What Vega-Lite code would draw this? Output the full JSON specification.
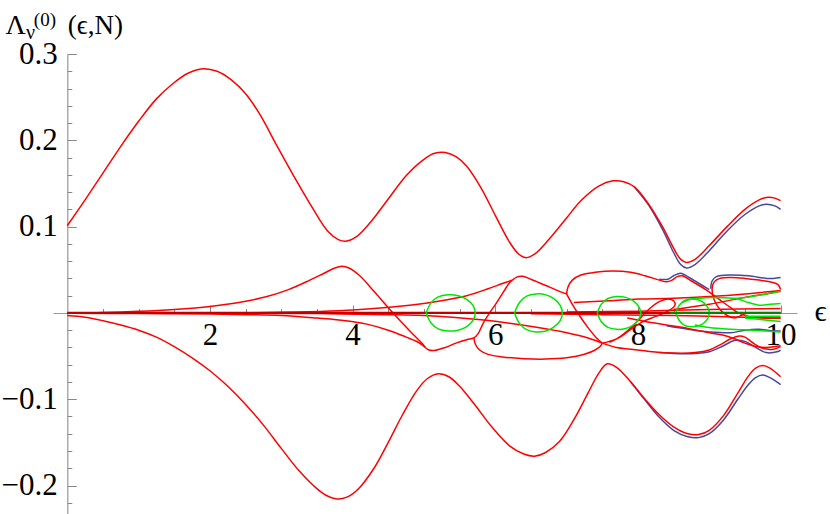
{
"$schema":"https://vega.github.io/schema/vega-lite/v6.json",
"width":744,"height":460,"autosize":"none",
"padding":{"left":53,"top":54,"right":33,"bottom":0},
"background":"white",
"config":{"view":{"stroke":null},"axis":{"labelFont":"Liberation Serif","titleFont":"Liberation Serif"}},
"title":{"text":"ν","anchor":"start","frame":"group","offset":17,"dx":-27,"dy":66,"fontSize":20,"font":"Liberation Serif","fontWeight":"normal","baseline":"alphabetic","color":"#000"},
"datasets":{"pts":[
{"c":"A","f":"r","i":0,"x":0,"y":0.101},{"c":"A","f":"r","i":1,"x":0.25,"y":0.131},{"c":"A","f":"r","i":2,"x":0.5,"y":0.162},{"c":"A","f":"r","i":3,"x":0.75,"y":0.193},{"c":"A","f":"r","i":4,"x":1.0,"y":0.222},{"c":"A","f":"r","i":5,"x":1.25,"y":0.248},{"c":"A","f":"r","i":6,"x":1.5,"y":0.267},{"c":"A","f":"r","i":7,"x":1.7,"y":0.278},{"c":"A","f":"r","i":8,"x":1.9,"y":0.283},{"c":"A","f":"r","i":9,"x":2.1,"y":0.28},{"c":"A","f":"r","i":10,"x":2.3,"y":0.27},{"c":"A","f":"r","i":11,"x":2.5,"y":0.254},{"c":"A","f":"r","i":12,"x":2.7,"y":0.23},{"c":"A","f":"r","i":13,"x":2.95,"y":0.192},{"c":"A","f":"r","i":14,"x":3.2,"y":0.155},{"c":"A","f":"r","i":15,"x":3.45,"y":0.12},{"c":"A","f":"r","i":16,"x":3.65,"y":0.095},{"c":"A","f":"r","i":17,"x":3.8,"y":0.085},{"c":"A","f":"r","i":18,"x":3.9,"y":0.083},{"c":"A","f":"r","i":19,"x":4.05,"y":0.088},{"c":"A","f":"r","i":20,"x":4.25,"y":0.105},{"c":"A","f":"r","i":21,"x":4.5,"y":0.132},{"c":"A","f":"r","i":22,"x":4.75,"y":0.159},{"c":"A","f":"r","i":23,"x":5.0,"y":0.178},{"c":"A","f":"r","i":24,"x":5.15,"y":0.185},{"c":"A","f":"r","i":25,"x":5.3,"y":0.186},{"c":"A","f":"r","i":26,"x":5.45,"y":0.181},{"c":"A","f":"r","i":27,"x":5.6,"y":0.17},{"c":"A","f":"r","i":28,"x":5.8,"y":0.145},{"c":"A","f":"r","i":29,"x":6.0,"y":0.113},{"c":"A","f":"r","i":30,"x":6.2,"y":0.082},{"c":"A","f":"r","i":31,"x":6.33,"y":0.068},{"c":"A","f":"r","i":32,"x":6.43,"y":0.064},{"c":"A","f":"r","i":33,"x":6.55,"y":0.068},{"c":"A","f":"r","i":34,"x":6.75,"y":0.085},{"c":"A","f":"r","i":35,"x":7.0,"y":0.11},{"c":"A","f":"r","i":36,"x":7.2,"y":0.13},{"c":"A","f":"r","i":37,"x":7.45,"y":0.147},{"c":"A","f":"r","i":38,"x":7.65,"y":0.153},{"c":"A","f":"r","i":39,"x":7.8,"y":0.152},{"c":"A","f":"r","i":40,"x":7.95,"y":0.146},{"c":"A","f":"r","i":41,"x":8.15,"y":0.126},{"c":"A","f":"r","i":42,"x":8.35,"y":0.099},{"c":"A","f":"r","i":43,"x":8.5,"y":0.075},{"c":"A","f":"r","i":44,"x":8.6,"y":0.062},{"c":"A","f":"r","i":45,"x":8.68,"y":0.0585},{"c":"A","f":"r","i":46,"x":8.8,"y":0.062},{"c":"A","f":"r","i":47,"x":9.0,"y":0.078},{"c":"A","f":"r","i":48,"x":9.25,"y":0.1},{"c":"A","f":"r","i":49,"x":9.5,"y":0.12},{"c":"A","f":"r","i":50,"x":9.7,"y":0.131},{"c":"A","f":"r","i":51,"x":9.82,"y":0.134},{"c":"A","f":"r","i":52,"x":9.92,"y":0.133},{"c":"A","f":"r","i":53,"x":10.0,"y":0.13},
{"c":"Ab","f":"b","i":0,"x":7.95,"y":0.146},{"c":"Ab","f":"b","i":1,"x":8.15,"y":0.125},{"c":"Ab","f":"b","i":2,"x":8.35,"y":0.096},{"c":"Ab","f":"b","i":3,"x":8.5,"y":0.07},{"c":"Ab","f":"b","i":4,"x":8.6,"y":0.056},{"c":"Ab","f":"b","i":5,"x":8.68,"y":0.052},{"c":"Ab","f":"b","i":6,"x":8.8,"y":0.056},{"c":"Ab","f":"b","i":7,"x":9.0,"y":0.072},{"c":"Ab","f":"b","i":8,"x":9.25,"y":0.095},{"c":"Ab","f":"b","i":9,"x":9.5,"y":0.114},{"c":"Ab","f":"b","i":10,"x":9.7,"y":0.124},{"c":"Ab","f":"b","i":11,"x":9.8,"y":0.126},{"c":"Ab","f":"b","i":12,"x":9.92,"y":0.124},{"c":"Ab","f":"b","i":13,"x":10.0,"y":0.12},
{"c":"B","f":"r","i":0,"x":0,"y":-0.003},{"c":"B","f":"r","i":1,"x":0.25,"y":-0.005},{"c":"B","f":"r","i":2,"x":0.5,"y":-0.009},{"c":"B","f":"r","i":3,"x":0.75,"y":-0.014},{"c":"B","f":"r","i":4,"x":1.0,"y":-0.02},{"c":"B","f":"r","i":5,"x":1.25,"y":-0.028},{"c":"B","f":"r","i":6,"x":1.5,"y":-0.039},{"c":"B","f":"r","i":7,"x":1.75,"y":-0.052},{"c":"B","f":"r","i":8,"x":2.0,"y":-0.067},{"c":"B","f":"r","i":9,"x":2.25,"y":-0.085},{"c":"B","f":"r","i":10,"x":2.5,"y":-0.106},{"c":"B","f":"r","i":11,"x":2.75,"y":-0.13},{"c":"B","f":"r","i":12,"x":3.0,"y":-0.157},{"c":"B","f":"r","i":13,"x":3.25,"y":-0.183},{"c":"B","f":"r","i":14,"x":3.45,"y":-0.2},{"c":"B","f":"r","i":15,"x":3.62,"y":-0.211},{"c":"B","f":"r","i":16,"x":3.78,"y":-0.2155},{"c":"B","f":"r","i":17,"x":3.92,"y":-0.2135},{"c":"B","f":"r","i":18,"x":4.08,"y":-0.204},{"c":"B","f":"r","i":19,"x":4.3,"y":-0.18},{"c":"B","f":"r","i":20,"x":4.5,"y":-0.15},{"c":"B","f":"r","i":21,"x":4.7,"y":-0.118},{"c":"B","f":"r","i":22,"x":4.9,"y":-0.09},{"c":"B","f":"r","i":23,"x":5.05,"y":-0.076},{"c":"B","f":"r","i":24,"x":5.2,"y":-0.0705},{"c":"B","f":"r","i":25,"x":5.35,"y":-0.074},{"c":"B","f":"r","i":26,"x":5.5,"y":-0.085},{"c":"B","f":"r","i":27,"x":5.7,"y":-0.105},{"c":"B","f":"r","i":28,"x":5.95,"y":-0.132},{"c":"B","f":"r","i":29,"x":6.2,"y":-0.154},{"c":"B","f":"r","i":30,"x":6.4,"y":-0.1635},{"c":"B","f":"r","i":31,"x":6.55,"y":-0.166},{"c":"B","f":"r","i":32,"x":6.7,"y":-0.162},{"c":"B","f":"r","i":33,"x":6.9,"y":-0.149},{"c":"B","f":"r","i":34,"x":7.1,"y":-0.124},{"c":"B","f":"r","i":35,"x":7.3,"y":-0.093},{"c":"B","f":"r","i":36,"x":7.45,"y":-0.07},{"c":"B","f":"r","i":37,"x":7.57,"y":-0.059},{"c":"B","f":"r","i":38,"x":7.7,"y":-0.063},{"c":"B","f":"r","i":39,"x":7.9,"y":-0.08},{"c":"B","f":"r","i":40,"x":8.1,"y":-0.1},{"c":"B","f":"r","i":41,"x":8.3,"y":-0.118},{"c":"B","f":"r","i":42,"x":8.5,"y":-0.132},{"c":"B","f":"r","i":43,"x":8.7,"y":-0.14},{"c":"B","f":"r","i":44,"x":8.85,"y":-0.141},{"c":"B","f":"r","i":45,"x":9.0,"y":-0.136},{"c":"B","f":"r","i":46,"x":9.2,"y":-0.119},{"c":"B","f":"r","i":47,"x":9.4,"y":-0.093},{"c":"B","f":"r","i":48,"x":9.55,"y":-0.073},{"c":"B","f":"r","i":49,"x":9.65,"y":-0.064},{"c":"B","f":"r","i":50,"x":9.75,"y":-0.061},{"c":"B","f":"r","i":51,"x":9.85,"y":-0.064},{"c":"B","f":"r","i":52,"x":10.0,"y":-0.074},
{"c":"Bb","f":"b","i":0,"x":7.9,"y":-0.08},{"c":"Bb","f":"b","i":1,"x":8.1,"y":-0.101},{"c":"Bb","f":"b","i":2,"x":8.3,"y":-0.121},{"c":"Bb","f":"b","i":3,"x":8.5,"y":-0.136},{"c":"Bb","f":"b","i":4,"x":8.7,"y":-0.1435},{"c":"Bb","f":"b","i":5,"x":8.85,"y":-0.1445},{"c":"Bb","f":"b","i":6,"x":9.0,"y":-0.14},{"c":"Bb","f":"b","i":7,"x":9.2,"y":-0.124},{"c":"Bb","f":"b","i":8,"x":9.4,"y":-0.1},{"c":"Bb","f":"b","i":9,"x":9.55,"y":-0.083},{"c":"Bb","f":"b","i":10,"x":9.65,"y":-0.075},{"c":"Bb","f":"b","i":11,"x":9.75,"y":-0.072},{"c":"Bb","f":"b","i":12,"x":9.85,"y":-0.075},{"c":"Bb","f":"b","i":13,"x":10.0,"y":-0.083},
{"c":"R1","f":"r","i":0,"x":0,"y":0},{"c":"R1","f":"r","i":1,"x":0.5,"y":0.0005},{"c":"R1","f":"r","i":2,"x":1,"y":0.0018},{"c":"R1","f":"r","i":3,"x":1.5,"y":0.004},{"c":"R1","f":"r","i":4,"x":2,"y":0.0075},{"c":"R1","f":"r","i":5,"x":2.5,"y":0.0135},{"c":"R1","f":"r","i":6,"x":2.8,"y":0.019},{"c":"R1","f":"r","i":7,"x":3.1,"y":0.027},{"c":"R1","f":"r","i":8,"x":3.4,"y":0.038},{"c":"R1","f":"r","i":9,"x":3.6,"y":0.046},{"c":"R1","f":"r","i":10,"x":3.75,"y":0.052},{"c":"R1","f":"r","i":11,"x":3.85,"y":0.054},{"c":"R1","f":"r","i":12,"x":3.95,"y":0.052},{"c":"R1","f":"r","i":13,"x":4.1,"y":0.043},{"c":"R1","f":"r","i":14,"x":4.3,"y":0.025},{"c":"R1","f":"r","i":15,"x":4.5,"y":0.006},{"c":"R1","f":"r","i":16,"x":4.7,"y":-0.012},{"c":"R1","f":"r","i":17,"x":4.85,"y":-0.025},{"c":"R1","f":"r","i":18,"x":4.97,"y":-0.035},{"c":"R1","f":"r","i":19,"x":5.02,"y":-0.04},
{"c":"R2","f":"r","i":0,"x":0,"y":-0.0005},{"c":"R2","f":"r","i":1,"x":1,"y":-0.0008},{"c":"R2","f":"r","i":2,"x":2,"y":-0.0012},{"c":"R2","f":"r","i":3,"x":2.5,"y":-0.002},{"c":"R2","f":"r","i":4,"x":3,"y":-0.003},{"c":"R2","f":"r","i":5,"x":3.5,"y":-0.006},{"c":"R2","f":"r","i":6,"x":3.9,"y":-0.009},{"c":"R2","f":"r","i":7,"x":4.2,"y":-0.013},{"c":"R2","f":"r","i":8,"x":4.5,"y":-0.02},{"c":"R2","f":"r","i":9,"x":4.75,"y":-0.028},{"c":"R2","f":"r","i":10,"x":4.92,"y":-0.034},{"c":"R2","f":"r","i":11,"x":5.02,"y":-0.04},
{"c":"R3","f":"r","i":0,"x":5.02,"y":-0.04},{"c":"R3","f":"r","i":1,"x":5.07,"y":-0.043},{"c":"R3","f":"r","i":2,"x":5.15,"y":-0.0435},{"c":"R3","f":"r","i":3,"x":5.3,"y":-0.04},{"c":"R3","f":"r","i":4,"x":5.45,"y":-0.035},{"c":"R3","f":"r","i":5,"x":5.6,"y":-0.031},{"c":"R3","f":"r","i":6,"x":5.7,"y":-0.029},{"c":"R3","f":"r","i":7,"x":5.76,"y":-0.024},{"c":"R3","f":"r","i":8,"x":5.83,"y":-0.012},{"c":"R3","f":"r","i":9,"x":5.92,"y":0.0},{"c":"R3","f":"r","i":10,"x":6.02,"y":0.012},{"c":"R3","f":"r","i":11,"x":6.12,"y":0.025},{"c":"R3","f":"r","i":12,"x":6.2,"y":0.035},{"c":"R3","f":"r","i":13,"x":6.24,"y":0.038},
{"c":"R4","f":"r","i":0,"x":2.6,"y":0.0003},{"c":"R4","f":"r","i":1,"x":3.2,"y":0.001},{"c":"R4","f":"r","i":2,"x":3.8,"y":0.0025},{"c":"R4","f":"r","i":3,"x":4.3,"y":0.005},{"c":"R4","f":"r","i":4,"x":4.8,"y":0.009},{"c":"R4","f":"r","i":5,"x":5.2,"y":0.0135},{"c":"R4","f":"r","i":6,"x":5.6,"y":0.02},{"c":"R4","f":"r","i":7,"x":5.9,"y":0.028},{"c":"R4","f":"r","i":8,"x":6.1,"y":0.034},{"c":"R4","f":"r","i":9,"x":6.24,"y":0.038},
{"c":"R5","f":"r","i":0,"x":6.24,"y":0.038},{"c":"R5","f":"r","i":1,"x":6.3,"y":0.0415},{"c":"R5","f":"r","i":2,"x":6.38,"y":0.0425},{"c":"R5","f":"r","i":3,"x":6.5,"y":0.039},{"c":"R5","f":"r","i":4,"x":6.7,"y":0.032},{"c":"R5","f":"r","i":5,"x":6.9,"y":0.025},{"c":"R5","f":"r","i":6,"x":7.0,"y":0.022},
{"c":"R6","f":"r","i":0,"x":7.0,"y":0.022},{"c":"R6","f":"r","i":1,"x":7.08,"y":0.01},{"c":"R6","f":"r","i":2,"x":7.18,"y":-0.003},{"c":"R6","f":"r","i":3,"x":7.3,"y":-0.017},{"c":"R6","f":"r","i":4,"x":7.42,"y":-0.029},{"c":"R6","f":"r","i":5,"x":7.5,"y":-0.035},
{"c":"R7","f":"r","i":0,"x":7.0,"y":0.022},{"c":"R7","f":"r","i":1,"x":7.02,"y":0.03},{"c":"R7","f":"r","i":2,"x":7.08,"y":0.038},{"c":"R7","f":"r","i":3,"x":7.2,"y":0.044},{"c":"R7","f":"r","i":4,"x":7.4,"y":0.047},{"c":"R7","f":"r","i":5,"x":7.65,"y":0.0485},{"c":"R7","f":"r","i":6,"x":7.9,"y":0.047},{"c":"R7","f":"r","i":7,"x":8.1,"y":0.043},{"c":"R7","f":"r","i":8,"x":8.3,"y":0.038},{"c":"R7","f":"r","i":9,"x":8.4,"y":0.036},{"c":"R7","f":"r","i":10,"x":8.48,"y":0.038},{"c":"R7","f":"r","i":11,"x":8.55,"y":0.042},{"c":"R7","f":"r","i":12,"x":8.62,"y":0.043},{"c":"R7","f":"r","i":13,"x":8.75,"y":0.037},{"c":"R7","f":"r","i":14,"x":8.95,"y":0.027},{"c":"R7","f":"r","i":15,"x":9.15,"y":0.015},{"c":"R7","f":"r","i":16,"x":9.3,"y":0.006},{"c":"R7","f":"r","i":17,"x":9.41,"y":0.0},{"c":"R7","f":"r","i":18,"x":9.55,"y":-0.004},{"c":"R7","f":"r","i":19,"x":9.75,"y":-0.006},{"c":"R7","f":"r","i":20,"x":10.0,"y":-0.006},
{"c":"R7b","f":"b","i":0,"x":8.3,"y":0.039},{"c":"R7b","f":"b","i":1,"x":8.42,"y":0.039},{"c":"R7b","f":"b","i":2,"x":8.5,"y":0.043},{"c":"R7b","f":"b","i":3,"x":8.6,"y":0.046},{"c":"R7b","f":"b","i":4,"x":8.68,"y":0.043},{"c":"R7b","f":"b","i":5,"x":8.8,"y":0.037},{"c":"R7b","f":"b","i":6,"x":9.0,"y":0.027},
{"c":"R8","f":"r","i":0,"x":10.0,"y":0.027},{"c":"R8","f":"r","i":1,"x":9.96,"y":0.033},{"c":"R8","f":"r","i":2,"x":9.85,"y":0.036},{"c":"R8","f":"r","i":3,"x":9.7,"y":0.038},{"c":"R8","f":"r","i":4,"x":9.5,"y":0.04},{"c":"R8","f":"r","i":5,"x":9.3,"y":0.041},{"c":"R8","f":"r","i":6,"x":9.15,"y":0.04},{"c":"R8","f":"r","i":7,"x":9.07,"y":0.036},{"c":"R8","f":"r","i":8,"x":9.04,"y":0.028},{"c":"R8","f":"r","i":9,"x":9.07,"y":0.015},{"c":"R8","f":"r","i":10,"x":9.15,"y":0.004},{"c":"R8","f":"r","i":11,"x":9.25,"y":-0.003},{"c":"R8","f":"r","i":12,"x":9.35,"y":-0.006},{"c":"R8","f":"r","i":13,"x":9.42,"y":-0.004},{"c":"R8","f":"r","i":14,"x":9.5,"y":-0.001},{"c":"R8","f":"r","i":15,"x":9.7,"y":0.0},{"c":"R8","f":"r","i":16,"x":10.0,"y":0.0},
{"c":"R8b","f":"b","i":0,"x":9.02,"y":0.028},{"c":"R8b","f":"b","i":1,"x":9.04,"y":0.037},{"c":"R8b","f":"b","i":2,"x":9.1,"y":0.042},{"c":"R8b","f":"b","i":3,"x":9.3,"y":0.044},{"c":"R8b","f":"b","i":4,"x":9.55,"y":0.043},{"c":"R8b","f":"b","i":5,"x":9.8,"y":0.04},{"c":"R8b","f":"b","i":6,"x":9.9,"y":0.04},{"c":"R8b","f":"b","i":7,"x":10.0,"y":0.041},
{"c":"R9","f":"r","i":0,"x":7.1,"y":0.012},{"c":"R9","f":"r","i":1,"x":7.6,"y":0.014},{"c":"R9","f":"r","i":2,"x":8.0,"y":0.016},{"c":"R9","f":"r","i":3,"x":8.5,"y":0.017},{"c":"R9","f":"r","i":4,"x":9.0,"y":0.019},{"c":"R9","f":"r","i":5,"x":9.5,"y":0.022},{"c":"R9","f":"r","i":6,"x":10.0,"y":0.026},
{"c":"R9c","f":"r","i":0,"x":8.5,"y":0.004},{"c":"R9c","f":"r","i":1,"x":9.0,"y":0.01},{"c":"R9c","f":"r","i":2,"x":9.5,"y":0.018},{"c":"R9c","f":"r","i":3,"x":9.8,"y":0.022},{"c":"R9c","f":"r","i":4,"x":10.0,"y":0.025},
{"c":"R10","f":"r","i":0,"x":7.5,"y":-0.035},{"c":"R10","f":"r","i":1,"x":7.7,"y":-0.03},{"c":"R10","f":"r","i":2,"x":7.85,"y":-0.021},{"c":"R10","f":"r","i":3,"x":8.0,"y":-0.009},{"c":"R10","f":"r","i":4,"x":8.15,"y":0.004},{"c":"R10","f":"r","i":5,"x":8.3,"y":0.013},{"c":"R10","f":"r","i":6,"x":8.42,"y":0.016},{"c":"R10","f":"r","i":7,"x":8.5,"y":0.014},{"c":"R10","f":"r","i":8,"x":8.52,"y":0.009},{"c":"R10","f":"r","i":9,"x":8.42,"y":0.002},{"c":"R10","f":"r","i":10,"x":8.25,"y":-0.004},{"c":"R10","f":"r","i":11,"x":8.05,"y":-0.011},{"c":"R10","f":"r","i":12,"x":7.9,"y":-0.019},{"c":"R10","f":"r","i":13,"x":7.75,"y":-0.028},{"c":"R10","f":"r","i":14,"x":7.6,"y":-0.034},
{"c":"R11","f":"r","i":0,"x":5.7,"y":-0.029},{"c":"R11","f":"r","i":1,"x":5.72,"y":-0.036},{"c":"R11","f":"r","i":2,"x":5.78,"y":-0.043},{"c":"R11","f":"r","i":3,"x":5.9,"y":-0.048},{"c":"R11","f":"r","i":4,"x":6.1,"y":-0.051},{"c":"R11","f":"r","i":5,"x":6.4,"y":-0.053},{"c":"R11","f":"r","i":6,"x":6.7,"y":-0.0535},{"c":"R11","f":"r","i":7,"x":7.0,"y":-0.052},{"c":"R11","f":"r","i":8,"x":7.25,"y":-0.048},{"c":"R11","f":"r","i":9,"x":7.4,"y":-0.043},{"c":"R11","f":"r","i":10,"x":7.48,"y":-0.038},{"c":"R11","f":"r","i":11,"x":7.5,"y":-0.035},
{"c":"R12","f":"r","i":0,"x":2.5,"y":-0.0003},{"c":"R12","f":"r","i":1,"x":3.5,"y":-0.0008},{"c":"R12","f":"r","i":2,"x":4.5,"y":-0.002},{"c":"R12","f":"r","i":3,"x":5.0,"y":-0.003},{"c":"R12","f":"r","i":4,"x":5.4,"y":-0.005},{"c":"R12","f":"r","i":5,"x":5.8,"y":-0.008},{"c":"R12","f":"r","i":6,"x":6.2,"y":-0.012},{"c":"R12","f":"r","i":7,"x":6.6,"y":-0.017},{"c":"R12","f":"r","i":8,"x":7.0,"y":-0.023},{"c":"R12","f":"r","i":9,"x":7.3,"y":-0.029},{"c":"R12","f":"r","i":10,"x":7.5,"y":-0.035},
{"c":"R13","f":"r","i":0,"x":7.5,"y":-0.035},{"c":"R13","f":"r","i":1,"x":7.7,"y":-0.04},{"c":"R13","f":"r","i":2,"x":7.9,"y":-0.042},{"c":"R13","f":"r","i":3,"x":8.2,"y":-0.045},{"c":"R13","f":"r","i":4,"x":8.5,"y":-0.0465},{"c":"R13","f":"r","i":5,"x":8.8,"y":-0.046},{"c":"R13","f":"r","i":6,"x":9.0,"y":-0.043},{"c":"R13","f":"r","i":7,"x":9.15,"y":-0.037},{"c":"R13","f":"r","i":8,"x":9.3,"y":-0.03},{"c":"R13","f":"r","i":9,"x":9.4,"y":-0.027},{"c":"R13","f":"r","i":10,"x":9.5,"y":-0.028},{"c":"R13","f":"r","i":11,"x":9.6,"y":-0.034},{"c":"R13","f":"r","i":12,"x":9.75,"y":-0.041},{"c":"R13","f":"r","i":13,"x":9.9,"y":-0.042},{"c":"R13","f":"r","i":14,"x":10.0,"y":-0.039},
{"c":"R13b","f":"b","i":0,"x":8.3,"y":-0.046},{"c":"R13b","f":"b","i":1,"x":8.5,"y":-0.047},{"c":"R13b","f":"b","i":2,"x":8.8,"y":-0.047},{"c":"R13b","f":"b","i":3,"x":9.0,"y":-0.045},{"c":"R13b","f":"b","i":4,"x":9.2,"y":-0.038},{"c":"R13b","f":"b","i":5,"x":9.35,"y":-0.032},{"c":"R13b","f":"b","i":6,"x":9.5,"y":-0.033},{"c":"R13b","f":"b","i":7,"x":9.65,"y":-0.04},{"c":"R13b","f":"b","i":8,"x":9.8,"y":-0.046},{"c":"R13b","f":"b","i":9,"x":9.95,"y":-0.045},{"c":"R13b","f":"b","i":10,"x":10.0,"y":-0.043},
{"c":"R14","f":"r","i":0,"x":7.85,"y":-0.006},{"c":"R14","f":"r","i":1,"x":8.1,"y":-0.01},{"c":"R14","f":"r","i":2,"x":8.4,"y":-0.014},{"c":"R14","f":"r","i":3,"x":8.7,"y":-0.018},{"c":"R14","f":"r","i":4,"x":9.0,"y":-0.023},{"c":"R14","f":"r","i":5,"x":9.2,"y":-0.026},{"c":"R14","f":"r","i":6,"x":9.35,"y":-0.03},{"c":"R14","f":"r","i":7,"x":9.5,"y":-0.035},{"c":"R14","f":"r","i":8,"x":9.65,"y":-0.039},{"c":"R14","f":"r","i":9,"x":9.8,"y":-0.04},{"c":"R14","f":"r","i":10,"x":10.0,"y":-0.038},
{"c":"R14b","f":"b","i":0,"x":8.4,"y":-0.015},{"c":"R14b","f":"b","i":1,"x":8.7,"y":-0.019},{"c":"R14b","f":"b","i":2,"x":9.0,"y":-0.022},{"c":"R14b","f":"b","i":3,"x":9.3,"y":-0.023},{"c":"R14b","f":"b","i":4,"x":9.5,"y":-0.02},{"c":"R14b","f":"b","i":5,"x":9.7,"y":-0.019},{"c":"R14b","f":"b","i":6,"x":9.9,"y":-0.021},{"c":"R14b","f":"b","i":7,"x":10.0,"y":-0.021},
{"c":"R15","f":"r","i":0,"x":6.5,"y":-0.001},{"c":"R15","f":"r","i":1,"x":7.5,"y":-0.002},{"c":"R15","f":"r","i":2,"x":8.5,"y":-0.003},{"c":"R15","f":"r","i":3,"x":9.5,"y":-0.005},{"c":"R15","f":"r","i":4,"x":10.0,"y":-0.006},
{"c":"R16","f":"r","i":0,"x":7.0,"y":0.001},{"c":"R16","f":"r","i":1,"x":8.0,"y":0.002},{"c":"R16","f":"r","i":2,"x":9.0,"y":0.004},{"c":"R16","f":"r","i":3,"x":10.0,"y":0.005},
{"c":"Z","f":"z","i":0,"x":0,"y":0},{"c":"Z","f":"z","i":1,"x":10.0,"y":0},
{"c":"G1","f":"g","i":0,"x":5.03,"y":0},{"c":"G1","f":"g","i":1,"x":5.1,"y":0.0116},{"c":"G1","f":"g","i":2,"x":5.2,"y":0.0185},{"c":"G1","f":"g","i":3,"x":5.34,"y":0.021},{"c":"G1","f":"g","i":4,"x":5.48,"y":0.02},{"c":"G1","f":"g","i":5,"x":5.6,"y":0.0158},{"c":"G1","f":"g","i":6,"x":5.69,"y":0.0084},{"c":"G1","f":"g","i":7,"x":5.72,"y":0},{"c":"G1","f":"g","i":8,"x":5.69,"y":-0.0084},{"c":"G1","f":"g","i":9,"x":5.6,"y":-0.0158},{"c":"G1","f":"g","i":10,"x":5.48,"y":-0.02},{"c":"G1","f":"g","i":11,"x":5.34,"y":-0.021},{"c":"G1","f":"g","i":12,"x":5.2,"y":-0.0185},{"c":"G1","f":"g","i":13,"x":5.1,"y":-0.0116},{"c":"G1","f":"g","i":14,"x":5.03,"y":0},
{"c":"G2","f":"g","i":0,"x":6.27,"y":0},{"c":"G2","f":"g","i":1,"x":6.34,"y":0.0121},{"c":"G2","f":"g","i":2,"x":6.44,"y":0.0194},{"c":"G2","f":"g","i":3,"x":6.57,"y":0.022},{"c":"G2","f":"g","i":4,"x":6.71,"y":0.0209},{"c":"G2","f":"g","i":5,"x":6.82,"y":0.0165},{"c":"G2","f":"g","i":6,"x":6.91,"y":0.0088},{"c":"G2","f":"g","i":7,"x":6.94,"y":0},{"c":"G2","f":"g","i":8,"x":6.91,"y":-0.0088},{"c":"G2","f":"g","i":9,"x":6.82,"y":-0.0165},{"c":"G2","f":"g","i":10,"x":6.71,"y":-0.0209},{"c":"G2","f":"g","i":11,"x":6.57,"y":-0.022},{"c":"G2","f":"g","i":12,"x":6.44,"y":-0.0194},{"c":"G2","f":"g","i":13,"x":6.34,"y":-0.0121},{"c":"G2","f":"g","i":14,"x":6.27,"y":0},
{"c":"G3","f":"g","i":0,"x":7.43,"y":0},{"c":"G3","f":"g","i":1,"x":7.49,"y":0.0105},{"c":"G3","f":"g","i":2,"x":7.58,"y":0.0167},{"c":"G3","f":"g","i":3,"x":7.7,"y":0.019},{"c":"G3","f":"g","i":4,"x":7.83,"y":0.018},{"c":"G3","f":"g","i":5,"x":7.93,"y":0.0143},{"c":"G3","f":"g","i":6,"x":8.01,"y":0.0076},{"c":"G3","f":"g","i":7,"x":8.04,"y":0},{"c":"G3","f":"g","i":8,"x":8.01,"y":-0.0076},{"c":"G3","f":"g","i":9,"x":7.93,"y":-0.0143},{"c":"G3","f":"g","i":10,"x":7.83,"y":-0.018},{"c":"G3","f":"g","i":11,"x":7.7,"y":-0.019},{"c":"G3","f":"g","i":12,"x":7.58,"y":-0.0167},{"c":"G3","f":"g","i":13,"x":7.49,"y":-0.0105},{"c":"G3","f":"g","i":14,"x":7.43,"y":0},
{"c":"G4","f":"g","i":0,"x":8.53,"y":0},{"c":"G4","f":"g","i":1,"x":8.58,"y":0.0088},{"c":"G4","f":"g","i":2,"x":8.65,"y":0.0141},{"c":"G4","f":"g","i":3,"x":8.74,"y":0.016},{"c":"G4","f":"g","i":4,"x":8.84,"y":0.0152},{"c":"G4","f":"g","i":5,"x":8.92,"y":0.012},{"c":"G4","f":"g","i":6,"x":8.98,"y":0.0064},{"c":"G4","f":"g","i":7,"x":9.0,"y":0},{"c":"G4","f":"g","i":8,"x":8.98,"y":-0.0064},{"c":"G4","f":"g","i":9,"x":8.92,"y":-0.012},{"c":"G4","f":"g","i":10,"x":8.84,"y":-0.0152},{"c":"G4","f":"g","i":11,"x":8.74,"y":-0.016},{"c":"G4","f":"g","i":12,"x":8.65,"y":-0.0141},{"c":"G4","f":"g","i":13,"x":8.58,"y":-0.0088},{"c":"G4","f":"g","i":14,"x":8.53,"y":0},
{"c":"G5","f":"g","i":0,"x":8.62,"y":0.012},{"c":"G5","f":"g","i":1,"x":8.75,"y":0.016},{"c":"G5","f":"g","i":2,"x":8.95,"y":0.0175},{"c":"G5","f":"g","i":3,"x":9.2,"y":0.0175},{"c":"G5","f":"g","i":4,"x":9.4,"y":0.016},{"c":"G5","f":"g","i":5,"x":9.55,"y":0.012},{"c":"G5","f":"g","i":6,"x":9.7,"y":0.009},{"c":"G5","f":"g","i":7,"x":9.85,"y":0.01},{"c":"G5","f":"g","i":8,"x":10.0,"y":0.011},
{"c":"G6","f":"g","i":0,"x":8.8,"y":-0.014},{"c":"G6","f":"g","i":1,"x":9.0,"y":-0.017},{"c":"G6","f":"g","i":2,"x":9.3,"y":-0.019},{"c":"G6","f":"g","i":3,"x":9.6,"y":-0.02},{"c":"G6","f":"g","i":4,"x":9.8,"y":-0.021},{"c":"G6","f":"g","i":5,"x":10.0,"y":-0.022},
{"c":"G7","f":"g","i":0,"x":9.3,"y":0.016},{"c":"G7","f":"g","i":1,"x":9.6,"y":0.019},{"c":"G7","f":"g","i":2,"x":9.8,"y":0.022},{"c":"G7","f":"g","i":3,"x":10.0,"y":0.025},
{"c":"G8","f":"g","i":0,"x":9.5,"y":-0.004},{"c":"G8","f":"g","i":1,"x":9.75,"y":-0.004},{"c":"G8","f":"g","i":2,"x":10.0,"y":-0.004},
{"c":"G9","f":"g","i":0,"x":9.5,"y":-0.006},{"c":"G9","f":"g","i":1,"x":9.75,"y":-0.008},{"c":"G9","f":"g","i":2,"x":10.0,"y":-0.01},
{"c":"K","f":"k","i":0,"x":8.45,"y":0},{"c":"K","f":"k","i":1,"x":10.0,"y":0}
]},
"data":{"name":"pts"},
"layer":[
{"transform":[{"filter":"datum.f==='b'"}],
 "mark":{"type":"line","color":"#4646a0","strokeWidth":1.5,"interpolate":"catmull-rom"},
 "encoding":{
  "x":{"field":"x","type":"quantitative","scale":{"domain":[-0.2,10.23],"nice":false,"zero":false},
   "axis":{"orient":"bottom","offset":-201,"values":[2,4,6,8,10],"format":"d","tickSize":-8,"tickColor":"#888","tickWidth":1,"domainColor":"#999","domainWidth":1.2,"labelFont":"Liberation Serif","labelFontSize":31,"labelColor":"#000","labelPadding":15,"labelFlush":false,"labelOverlap":false,"grid":false,"title":"ϵ","titleFont":"Liberation Serif","titleFontSize":30,"titleFontWeight":"normal","titleColor":"#000","titleX":767,"titleY":-2,"titleBaseline":"middle","titleAlign":"center","titleAngle":0}},
  "y":{"field":"y","type":"quantitative","scale":{"domain":[-0.233,0.3],"nice":false,"zero":false},
   "axis":{"orient":"left","offset":-14.3,"values":[-0.2,-0.1,0.1,0.2,0.3],"format":".1f","tickSize":-9,"tickColor":"#888","tickWidth":1,"domainColor":"#999","domainWidth":1.2,"labelFont":"Liberation Serif","labelFontSize":31,"labelColor":"#000","labelPadding":19,"labelBaseline":"middle","labelFlush":false,"labelOverlap":false,"grid":false,"title":"(ϵ,N)","titleFont":"Liberation Serif","titleFontSize":27,"titleFontWeight":"normal","titleColor":"#000","titleAngle":0,"titleX":0,"titleY":-21,"titleAlign":"left","titleBaseline":"alphabetic"}},
  "detail":{"field":"c"},
  "order":{"field":"i","type":"quantitative"}}},
{"transform":[{"filter":"datum.f==='r'"}],
 "mark":{"type":"line","color":"#ff0000","strokeWidth":1.5,"interpolate":"catmull-rom"},
 "encoding":{
  "x":{"field":"x","type":"quantitative","scale":{"domain":[-0.2,10.23],"nice":false,"zero":false},
   "axis":{"orient":"bottom","offset":-201,"values":[0.5,1,1.5,2,2.5,3,3.5,4,4.5,5,5.5,6,6.5,7,7.5,8,8.5,9,9.5,10],"tickSize":-4.5,"tickColor":"#888","tickWidth":1,"labels":false,"domain":false,"grid":false,"title":"Λ","titleFont":"Liberation Serif","titleFontSize":28,"titleFontWeight":"normal","titleColor":"#000","titleX":-48,"titleY":-280,"titleAlign":"left","titleBaseline":"alphabetic","titleAngle":0}},
  "y":{"field":"y","type":"quantitative","scale":{"domain":[-0.233,0.3],"nice":false,"zero":false},
   "axis":{"orient":"left","offset":-14.3,"values":[-0.22,-0.2,-0.18,-0.16,-0.14,-0.12,-0.1,-0.08,-0.06,-0.04,-0.02,0,0.02,0.04,0.06,0.08,0.1,0.12,0.14,0.16,0.18,0.2,0.22,0.24,0.26,0.28,0.3],"tickSize":-4.5,"tickColor":"#888","tickWidth":1,"labels":false,"domain":false,"grid":false,"title":"(0)","titleFont":"Liberation Serif","titleFontSize":19,"titleFontWeight":"normal","titleColor":"#000","titleAngle":0,"titleX":-34,"titleY":-29,"titleAlign":"left","titleBaseline":"alphabetic"}},
  "detail":{"field":"c"},
  "order":{"field":"i","type":"quantitative"}}},
{"transform":[{"filter":"datum.f==='z'"}],
 "mark":{"type":"line","color":"#c00000","strokeWidth":2.4},
 "encoding":{
  "x":{"field":"x","type":"quantitative","axis":null},
  "y":{"field":"y","type":"quantitative","axis":null},
  "detail":{"field":"c"},
  "order":{"field":"i","type":"quantitative"}}},
{"transform":[{"filter":"datum.f==='g'"}],
 "mark":{"type":"line","color":"#00e600","strokeWidth":1.5,"interpolate":"catmull-rom"},
 "encoding":{
  "x":{"field":"x","type":"quantitative","axis":null},
  "y":{"field":"y","type":"quantitative","axis":null},
  "detail":{"field":"c"},
  "order":{"field":"i","type":"quantitative"}}},
{"transform":[{"filter":"datum.f==='k'"}],
 "mark":{"type":"line","color":"#008800","strokeWidth":2},
 "encoding":{
  "x":{"field":"x","type":"quantitative","axis":null},
  "y":{"field":"y","type":"quantitative","axis":null},
  "detail":{"field":"c"},
  "order":{"field":"i","type":"quantitative"}}}
],
"resolve":{"axis":{"x":"independent","y":"independent"}}
}
